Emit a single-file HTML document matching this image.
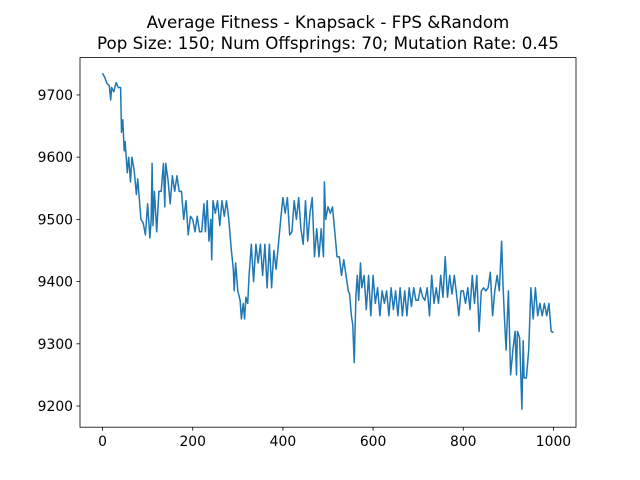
<!DOCTYPE html>
<html><head><meta charset="utf-8">
<style>
body{margin:0;background:#fff;}
svg{display:block;font-family:"DejaVu Sans","Liberation Sans",sans-serif;}
</style></head>
<body>
<svg id="chart" width="640" height="480" viewBox="0 0 640 480">
<rect width="640" height="480" fill="#fff"/>
<text x="328" y="28" text-anchor="middle" font-size="16.7">Average Fitness - Knapsack - FPS &amp;Random</text>
<text x="328" y="49" text-anchor="middle" font-size="16.7">Pop Size: 150; Num Offsprings: 70; Mutation Rate: 0.45</text>
<g id="ticks"></g>
<path id="line" fill="none" stroke="#1f77b4" stroke-width="1.5" stroke-linejoin="round"/>
<rect x="80" y="57.6" width="496" height="369.6" fill="none" stroke="#000" stroke-width="0.8"/>
</svg>
<script>
const generations = [0,5,10,15,18,20,25,30,35,40,42,45,48,50,55,58,62,65,70,75,78,82,85,90,95,100,105,108,110,112,115,120,125,130,135,138,140,145,150,155,160,165,170,175,180,185,190,195,200,205,210,215,220,225,228,232,236,240,242,245,250,255,260,265,270,275,280,285,290,292,295,300,305,308,312,315,318,322,325,330,335,340,345,350,355,360,365,370,375,380,385,390,395,400,405,410,415,420,425,430,435,440,445,450,455,460,465,470,475,480,485,490,492,495,500,505,510,515,520,525,530,535,540,545,548,552,555,558,562,565,568,572,575,580,585,590,595,600,605,610,615,620,625,630,635,640,645,650,655,660,665,670,675,680,685,690,695,700,705,710,715,720,725,730,735,740,745,750,755,760,765,770,775,780,785,790,795,800,805,810,815,820,825,830,835,840,845,850,855,860,865,870,875,880,885,888,892,895,900,905,910,915,918,920,925,930,933,935,940,945,950,955,960,965,970,975,980,985,990,995,1000];
const fitness = [9735,9728,9718,9715,9692,9712,9705,9720,9712,9712,9640,9660,9610,9625,9575,9600,9560,9600,9580,9540,9565,9530,9500,9495,9475,9525,9470,9500,9590,9490,9545,9480,9545,9545,9590,9520,9590,9565,9525,9570,9545,9570,9545,9545,9500,9530,9475,9505,9500,9480,9505,9480,9480,9525,9480,9530,9465,9500,9435,9530,9510,9530,9490,9530,9505,9530,9500,9455,9420,9385,9430,9385,9370,9340,9365,9340,9375,9365,9410,9460,9400,9460,9430,9460,9410,9460,9390,9460,9390,9450,9420,9460,9500,9535,9510,9535,9475,9480,9530,9500,9535,9485,9460,9530,9465,9510,9535,9440,9485,9440,9485,9440,9560,9500,9520,9510,9520,9480,9440,9440,9410,9435,9410,9385,9380,9345,9330,9270,9380,9410,9370,9430,9390,9410,9355,9410,9345,9410,9365,9390,9345,9385,9365,9385,9345,9390,9355,9385,9345,9390,9345,9385,9345,9390,9360,9390,9370,9370,9390,9375,9370,9390,9345,9410,9365,9390,9365,9410,9375,9440,9375,9410,9380,9410,9380,9345,9385,9385,9365,9390,9355,9410,9365,9410,9320,9385,9390,9385,9390,9415,9345,9385,9410,9385,9465,9395,9330,9290,9385,9250,9290,9320,9250,9320,9310,9195,9305,9245,9245,9290,9390,9340,9390,9345,9365,9345,9365,9345,9365,9320,9318];
const xTicks = [0,200,400,600,800,1000];
const yTicks = [9200,9300,9400,9500,9600,9700];

const X0=80,X1=576,Y0=57.6,Y1=427.2;
const xMin=-50,xMax=1050,yMin=9166,yMax=9760;
function xs(v){return X0+(v-xMin)/(xMax-xMin)*(X1-X0);}
function ys(v){return Y1-(v-yMin)/(yMax-yMin)*(Y1-Y0);}
const NS="http://www.w3.org/2000/svg";
const g=document.getElementById('ticks');
xTicks.forEach(t=>{
  const l=document.createElementNS(NS,'line');
  l.setAttribute('x1',xs(t));l.setAttribute('x2',xs(t));l.setAttribute('y1',Y1);l.setAttribute('y2',Y1+3.5);
  l.setAttribute('stroke','#000');l.setAttribute('stroke-width','0.8');
  
  
  g.appendChild(l);
  const tx=document.createElementNS(NS,'text');
  tx.setAttribute('x',xs(t));tx.setAttribute('y',Y1+19);tx.setAttribute('text-anchor','middle');tx.setAttribute('font-size','13.9');
  tx.textContent=t;
  
  
  g.appendChild(tx);
});
yTicks.forEach(t=>{
  const l=document.createElementNS(NS,'line');
  l.setAttribute('x1',X0-3.5);l.setAttribute('x2',X0);l.setAttribute('y1',ys(t));l.setAttribute('y2',ys(t));
  l.setAttribute('stroke','#000');l.setAttribute('stroke-width','0.8');
  
  
  g.appendChild(l);
  const tx=document.createElementNS(NS,'text');
  tx.setAttribute('x',X0-7);tx.setAttribute('y',ys(t)+5);tx.setAttribute('text-anchor','end');tx.setAttribute('font-size','13.9');
  tx.textContent=t;
  
  
  g.appendChild(tx);
});
document.getElementById('line').setAttribute('d',generations.map((gn,i)=>(i?'L':'M')+xs(gn).toFixed(1)+','+ys(fitness[i]).toFixed(1)).join(''));
</script>
</body></html>
